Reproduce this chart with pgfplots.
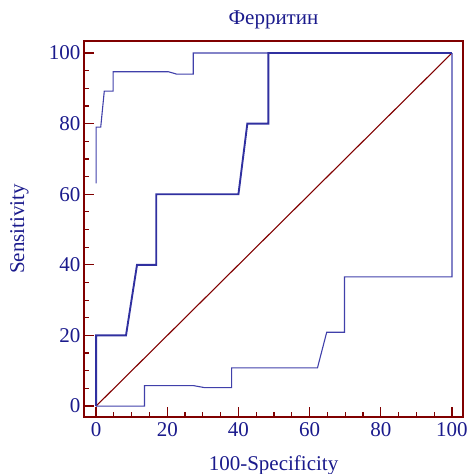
\documentclass[border=0pt]{standalone}
\usepackage{fontspec}
\setmainfont{Liberation Serif}
\usepackage{pgfplots}
\pgfplotsset{compat=1.18}
\definecolor{frame}{RGB}{128,0,0}
\definecolor{ink}{RGB}{26,26,140}
\definecolor{roc}{RGB}{48,48,160}
\definecolor{ci}{RGB}{64,64,170}

\begin{document}
\begin{tikzpicture}
\begin{axis}[
    scale only axis, width=379bp, height=376bp,
    xmin=-3.4, xmax=103.1, ymin=-3.1, ymax=103.4,
    axis line style={frame, line width=1.6bp},
    tick style={frame, line width=1.2bp},
    major tick length=10bp, minor tick length=5bp,
    tick align=inside, tick pos=left,
    xtick={0,20,...,100}, ytick={0,20,...,100}, minor tick num=3,
    /pgf/number format/assume math mode=true,
    tick label style={font=\fontsize{21bp}{25bp}\selectfont, text=ink},
    xticklabel style={yshift=-2bp},
    title={Ферритин},
    title style={font=\fontsize{21bp}{25bp}\selectfont, text=ink, anchor=base,
        at={(axis description cs:0.5,1.028)}},
    xlabel={100-Specificity},
    xlabel style={font=\fontsize{21bp}{25bp}\selectfont, text=ink, anchor=base,
        at={(axis description cs:0.5,-0.1436)}},
    ylabel={Sensitivity},
    ylabel style={font=\fontsize{21bp}{25bp}\selectfont, text=ink, anchor=base,
        at={(axis description cs:-0.158,0.5)}},
]
% diagonal
\addplot[frame, line width=1.1bp] coordinates {(0,0) (100,100)};
% upper bound
\addplot[ci, line width=1.1bp] coordinates {
    (0,63.1) (0,79) (1.3,79) (2.3,89.2) (4.8,89.2) (4.8,94.7) (20.3,94.7)
    (22.7,94) (27.3,94) (27.3,100) (100,100)};
% lower bound
\addplot[ci, line width=1.1bp] coordinates {
    (0,0) (13.6,0) (13.6,5.8) (27.3,5.8) (30.6,5.2) (38.1,5.2) (38.1,10.8)
    (62.2,10.8) (64.8,20.9) (69.8,20.9) (69.8,36.6) (100,36.6) (100,100)};
% ROC
\addplot[roc, line width=1.9bp] coordinates {
    (0,0) (0,20) (8.4,20) (11.5,40) (16.9,40) (16.9,60) (40,60) (42.5,80)
    (48.4,80) (48.4,100) (100,100)};
\end{axis}
\pgfresetboundingbox
\path ([shift={(-84bp,-57bp)}]current axis.south west)
    rectangle ([shift={(7bp,41bp)}]current axis.north east);
\end{tikzpicture}
\end{document}
